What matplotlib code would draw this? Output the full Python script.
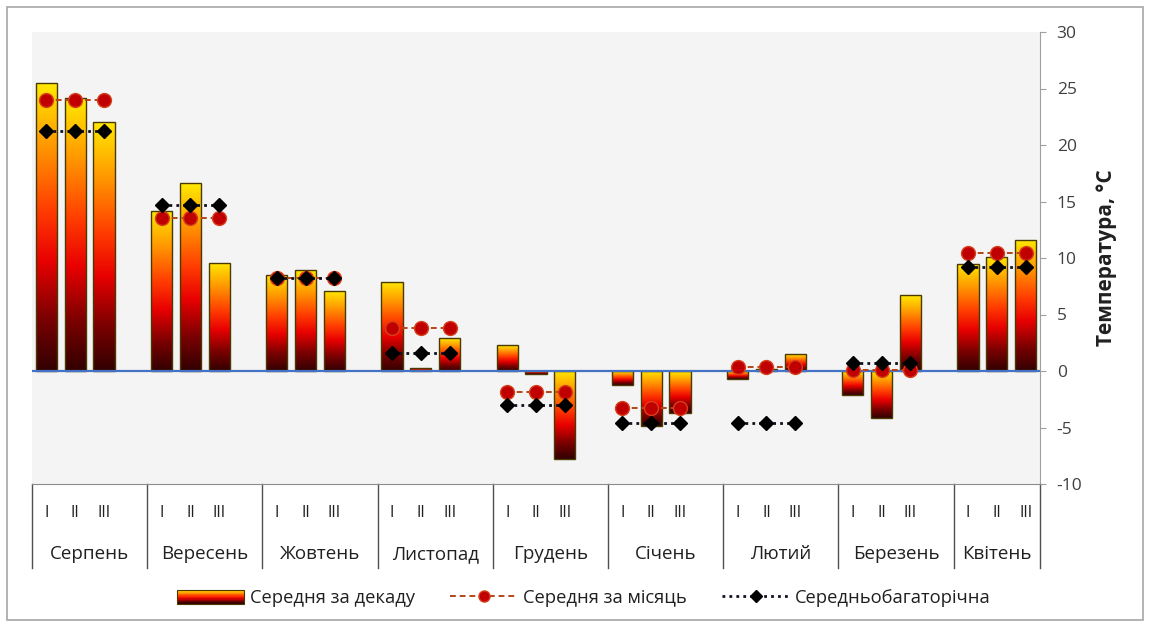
import numpy as np
import matplotlib
matplotlib.use("Agg")
import matplotlib.pyplot as plt
from matplotlib.colors import LinearSegmentedColormap
from matplotlib.patches import Rectangle, Patch
from matplotlib.lines import Line2D
from matplotlib.legend_handler import HandlerBase

plt.rcParams['font.family'] = ['Open Sans', 'DejaVu Sans']
plt.rcParams['axes.unicode_minus'] = False

# ---- data ----
months = ["Серпень", "Вересень", "Жовтень", "Листопад", "Грудень",
          "Січень", "Лютий", "Березень", "Квітень"]
decades = ["I", "II", "III"]

# mean temperature per ten-day period (I, II, III) for each month
decade_temp = [
    [25.5, 24.2, 22.0],   # Серпень
    [14.2, 16.6, 9.6],    # Вересень
    [8.5, 8.9, 7.1],      # Жовтень
    [7.9, 0.3, 2.9],      # Листопад
    [2.3, -0.3, -7.8],    # Грудень
    [-1.2, -4.9, -3.7],   # Січень
    [-0.7, 0.2, 1.5],     # Лютий
    [-2.1, -4.2, 6.7],    # Березень
    [9.5, 10.1, 11.6],    # Квітень
]
month_mean = [24.0, 13.5, 8.2, 3.8, -1.9, -3.3, 0.35, 0.1, 10.4]
long_term = [21.2, 14.7, 8.2, 1.6, -3.0, -4.6, -4.6, 0.7, 9.2]

yticks = [-10, -5, 0, 5, 10, 15, 20, 25, 30]

# ---- layout helpers ----
SLOTS = 4  # three decades plus one empty slot between months
n_m = len(months)
bar_x = [m * SLOTS + d for m in range(n_m) for d in range(3)]
bar_v = [v for row in decade_temp for v in row]

line_x, mean_y, lt_y = [], [], []
for m in range(n_m):
    for d in range(3):
        line_x.append(m * SLOTS + d)
        mean_y.append(month_mean[m])
        lt_y.append(long_term[m])
    line_x.append(np.nan)
    mean_y.append(np.nan)
    lt_y.append(np.nan)

cmap = LinearSegmentedColormap.from_list(
    "heat", [(0.0, "#320000"), (0.18, "#7a0000"), (0.38, "#e80000"),
             (0.55, "#ff3a00"), (0.78, "#ff9800"), (1.0, "#ffea00")])

W, H = 1149, 627
fig = plt.figure(figsize=(W / 100, H / 100), dpi=100)
fig.patch.set_facecolor("white")
ax = fig.add_axes([32 / W, 1 - 484 / H, (1040 - 32) / W, (484 - 32) / H])
ax.set_facecolor("#f4f4f4")

bw = 0.73
bars = ax.bar(bar_x, bar_v, width=bw, facecolor="none",
              edgecolor="#4a3a00", linewidth=1.0, zorder=3)
grad = np.linspace(0, 1, 256).reshape(-1, 1)
for rect in bars:
    x0 = rect.get_x()
    y0 = rect.get_y()
    h = rect.get_height()
    lo, hi = min(y0, y0 + h), max(y0, y0 + h)
    im = ax.imshow(grad, cmap=cmap, origin="lower", aspect="auto",
                   extent=[x0, x0 + rect.get_width(), lo, hi],
                   interpolation="bilinear", zorder=2)
    im.set_clip_path(rect)

ax.axhline(0, color="#4472c4", lw=1.6, zorder=4)

ax.plot(line_x, mean_y, linestyle=(0, (3, 2)), color="#b5461a", lw=1.4,
        marker="o", markersize=10, markerfacecolor="#c00000",
        markeredgecolor="#d8401c", markeredgewidth=1.0, zorder=5)
ax.plot(line_x, lt_y, linestyle=(0, (1, 1.5)), color="#101020", lw=2.0,
        marker="D", markersize=7.5, markerfacecolor="black",
        markeredgecolor="black", zorder=6)

ax.set_xlim(-0.5, (n_m - 1) * SLOTS + 2.5)
ax.set_ylim(-10, 30)
ax.set_yticks(yticks)
ax.yaxis.tick_right()
ax.yaxis.set_label_position("right")
ax.tick_params(axis="y", direction="out", length=4, color="#a0a0a0",
               labelsize=12.5, labelcolor="#404040", pad=8)
ax.set_xticks([])
for s in ("left", "top"):
    ax.spines[s].set_visible(False)
ax.spines["right"].set_color("#a0a0a0")
ax.spines["bottom"].set_color("#8c8c8c")
ax.set_ylabel("Температура, °С", fontsize=15, fontweight="bold",
              color="#202020", labelpad=10)

# category table under the plot
tr = ax.get_xaxis_transform()
bounds = [m * SLOTS - 0.5 for m in range(n_m)] + [(n_m - 1) * SLOTS + 2.5]
for b in bounds:
    ax.plot([b, b], [0, -0.186], transform=tr, color="#505050", lw=1.0,
            clip_on=False)
for x, d in zip(bar_x, decades * n_m):
    ax.text(x, -0.064, d, transform=tr, ha="center", va="center",
            fontsize=11.5, color="#202020")
for m, name in enumerate(months):
    cx = (bounds[m] + bounds[m + 1]) / 2
    ax.text(cx, -0.155, name, transform=tr, ha="center", va="center",
            fontsize=13.5, color="#202020")


class HandlerGradient(HandlerBase):
    def create_artists(self, legend, orig_handle, xdescent, ydescent,
                       width, height, fontsize, trans):
        arts = []
        n = 24
        for i in range(n):
            r = Rectangle((-xdescent, -ydescent + i * height / n), width,
                          height / n, facecolor=cmap(i / (n - 1)),
                          edgecolor="none", transform=trans)
            arts.append(r)
        arts.append(Rectangle((-xdescent, -ydescent), width, height,
                              facecolor="none", edgecolor="#4a3a00",
                              lw=0.8, transform=trans))
        return arts


h_bar = Patch(label="Середня за декаду")
h_mean = Line2D([], [], linestyle=(0, (3, 2)), color="#b5461a", lw=1.4,
                marker="o", markersize=8, markerfacecolor="#c00000",
                markeredgecolor="#d8401c")
h_lt = Line2D([], [], linestyle=(0, (1, 1.5)), color="#101020", lw=2.0,
              marker="D", markersize=6, markerfacecolor="black",
              markeredgecolor="black")
fig.legend([h_bar, h_mean, h_lt],
           ["Середня за декаду", "Середня за місяць", "Середньобагаторічна"],
           handler_map={Patch: HandlerGradient()},
           loc="center", bbox_to_anchor=(0.508, 1 - 598 / H), ncol=3,
           frameon=False, fontsize=13.2, handlelength=3.7, handleheight=0.8,
           columnspacing=1.9, handletextpad=0.3, labelcolor="#202020")

fig.patches.append(Rectangle((7 / W, 7 / H), (1143 - 7) / W, (620 - 7) / H,
                             transform=fig.transFigure, fill=False,
                             edgecolor="#a6a6a6", lw=1.2))

fig.savefig("out.png", dpi=100, facecolor="white")
